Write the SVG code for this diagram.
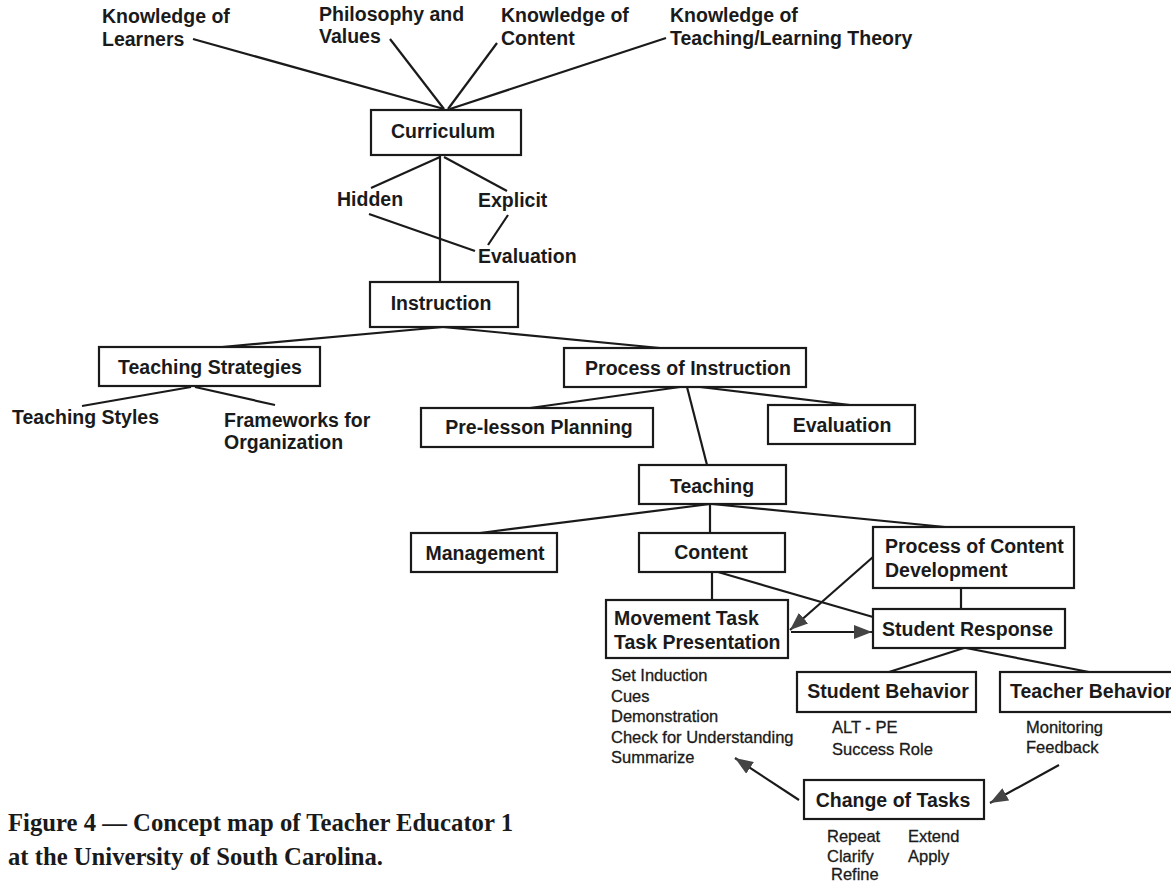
<svg xmlns="http://www.w3.org/2000/svg" width="1171" height="883" viewBox="0 0 1171 883">
<style>
.bg{fill:#ffffff}
.box{fill:none;stroke:#1a1a1a;stroke-width:2.2}
.lbl{font-family:"Liberation Sans",Arial,sans-serif;font-weight:bold;font-size:19.5px;fill:#1a1a1a}
.mid{text-anchor:middle}
.sm{font-family:"Liberation Sans",Arial,sans-serif;font-size:16.5px;fill:#1a1a1a;stroke:#1a1a1a;stroke-width:0.3}
.cap{font-family:"Liberation Serif","Times New Roman",serif;font-weight:bold;font-size:24.5px;fill:#1a1a1a}
.ln{stroke:#1a1a1a;stroke-width:2.2;fill:none}
.ar{stroke:#1a1a1a;stroke-width:2.2;fill:none;marker-end:url(#ah)}
</style>
<defs>
<marker id="ah" markerUnits="userSpaceOnUse" markerWidth="20" markerHeight="14" refX="18" refY="7" orient="auto">
<path d="M0,0 L18,7 L0,14 z" fill="#444"/>
</marker>
</defs>
<rect class="bg" x="0" y="0" width="1171" height="883"/>
<g id="connectors">
<line class="ln" x1="193" y1="39" x2="444" y2="109"/>
<line class="ln" x1="390" y1="39" x2="444" y2="109"/>
<line class="ln" x1="497" y1="43" x2="448" y2="109"/>
<line class="ln" x1="666" y1="38" x2="450" y2="109"/>
<line class="ln" x1="440" y1="157" x2="371" y2="188"/>
<line class="ln" x1="444" y1="157" x2="507" y2="191"/>
<line class="ln" x1="440" y1="155" x2="440" y2="282"/>
<line class="ln" x1="369" y1="214" x2="475" y2="251"/>
<line class="ln" x1="508" y1="215" x2="488" y2="245"/>
<line class="ln" x1="443" y1="327" x2="222" y2="347"/>
<line class="ln" x1="443" y1="327" x2="660" y2="348"/>
<line class="ln" x1="191" y1="387" x2="82" y2="406"/>
<line class="ln" x1="195" y1="387" x2="275" y2="405"/>
<line class="ln" x1="680" y1="387" x2="530" y2="408"/>
<line class="ln" x1="700" y1="387" x2="850" y2="405"/>
<line class="ln" x1="687" y1="387" x2="707" y2="465"/>
<line class="ln" x1="710" y1="504" x2="480" y2="533"/>
<line class="ln" x1="710" y1="504" x2="710" y2="533"/>
<line class="ln" x1="712" y1="504" x2="945" y2="527"/>
<line class="ln" x1="712" y1="572" x2="712" y2="600"/>
<line class="ln" x1="718" y1="572" x2="873" y2="617"/>
<line class="ln" x1="961" y1="588" x2="961" y2="609"/>
<line class="ar" x1="873" y1="557" x2="790" y2="630"/>
<line class="ar" x1="791" y1="632" x2="872" y2="632"/>
<line class="ln" x1="964" y1="648" x2="889" y2="672"/>
<line class="ln" x1="966" y1="648" x2="1089" y2="672"/>
<line class="ar" x1="799" y1="800" x2="735" y2="758"/>
<line class="ar" x1="1059" y1="765" x2="990" y2="803"/>
</g>
<g id="n-learners"><text class="lbl" x="102" y="23">Knowledge of</text><text class="lbl" x="102" y="46">Learners</text></g>
<g id="n-philosophy"><text class="lbl" x="319" y="21">Philosophy and</text><text class="lbl" x="319" y="43">Values</text></g>
<g id="n-content-k"><text class="lbl" x="501" y="22">Knowledge of</text><text class="lbl" x="501" y="45">Content</text></g>
<g id="n-theory"><text class="lbl" x="670" y="22">Knowledge of</text><text class="lbl" x="670" y="45">Teaching/Learning Theory</text></g>
<g id="n-curriculum"><rect class="box" x="371" y="110" width="150" height="45"/><text class="lbl mid" x="443" y="138">Curriculum</text></g>
<g id="n-hidden"><text class="lbl" x="337" y="206">Hidden</text></g>
<g id="n-explicit"><text class="lbl" x="478" y="207">Explicit</text></g>
<g id="n-evaluation1"><text class="lbl" x="478" y="263">Evaluation</text></g>
<g id="n-instruction"><rect class="box" x="370" y="282" width="148" height="45"/><text class="lbl mid" x="441" y="310">Instruction</text></g>
<g id="n-strategies"><rect class="box" x="99" y="347" width="221" height="39"/><text class="lbl mid" x="210" y="374">Teaching Strategies</text></g>
<g id="n-styles"><text class="lbl" x="12" y="424">Teaching Styles</text></g>
<g id="n-frameworks"><text class="lbl" x="224" y="427">Frameworks for</text><text class="lbl" x="224" y="449">Organization</text></g>
<g id="n-process"><rect class="box" x="564" y="348" width="242" height="39"/><text class="lbl mid" x="688" y="375">Process of Instruction</text></g>
<g id="n-prelesson"><rect class="box" x="421" y="408" width="232" height="39"/><text class="lbl mid" x="539" y="434">Pre-lesson Planning</text></g>
<g id="n-evaluation2"><rect class="box" x="768" y="405" width="147" height="39"/><text class="lbl mid" x="842" y="432">Evaluation</text></g>
<g id="n-teaching"><rect class="box" x="639" y="465" width="147" height="39"/><text class="lbl mid" x="712" y="493">Teaching</text></g>
<g id="n-management"><rect class="box" x="411" y="533" width="146" height="39"/><text class="lbl mid" x="485" y="560">Management</text></g>
<g id="n-content"><rect class="box" x="639" y="533" width="146" height="39"/><text class="lbl mid" x="711" y="559">Content</text></g>
<g id="n-pcd"><rect class="box" x="873" y="527" width="201" height="61"/><text class="lbl" x="885" y="553">Process of Content</text><text class="lbl" x="885" y="577">Development</text></g>
<g id="n-movement"><rect class="box" x="606" y="600" width="182" height="58"/><text class="lbl" x="614" y="625">Movement Task</text><text class="lbl" x="614" y="649">Task Presentation</text></g>
<g id="n-response"><rect class="box" x="873" y="609" width="192" height="39"/><text class="lbl" x="882" y="636">Student Response</text></g>
<g id="n-sbehavior"><rect class="box" x="797" y="672" width="179" height="40"/><text class="lbl mid" x="888" y="698">Student Behavior</text></g>
<g id="n-tbehavior"><rect class="box" x="1000" y="672" width="190" height="40"/><text class="lbl" x="1010" y="698">Teacher Behavior</text></g>
<g id="n-tasklist"><text class="sm" x="611" y="681">Set Induction</text><text class="sm" x="611" y="702">Cues</text><text class="sm" x="611" y="722">Demonstration</text><text class="sm" x="611" y="743">Check for Understanding</text><text class="sm" x="611" y="763">Summarize</text></g>
<g id="n-altpe"><text class="sm" x="832" y="733">ALT - PE</text><text class="sm" x="832" y="755">Success Role</text></g>
<g id="n-monitoring"><text class="sm" x="1026" y="733">Monitoring</text><text class="sm" x="1026" y="753">Feedback</text></g>
<g id="n-change"><rect class="box" x="804" y="780" width="180" height="39"/><text class="lbl mid" x="893" y="807">Change of Tasks</text></g>
<g id="n-changelist"><text class="sm" x="827" y="842">Repeat</text><text class="sm" x="908" y="842">Extend</text><text class="sm" x="827" y="862">Clarify</text><text class="sm" x="908" y="862">Apply</text><text class="sm" x="831" y="880">Refine</text></g>
<g id="caption"><text class="cap" x="8" y="831" textLength="505" lengthAdjust="spacingAndGlyphs">Figure 4 — Concept map of Teacher Educator 1</text><text class="cap" x="8" y="865" textLength="375" lengthAdjust="spacingAndGlyphs">at the University of South Carolina.</text></g>
</svg>
